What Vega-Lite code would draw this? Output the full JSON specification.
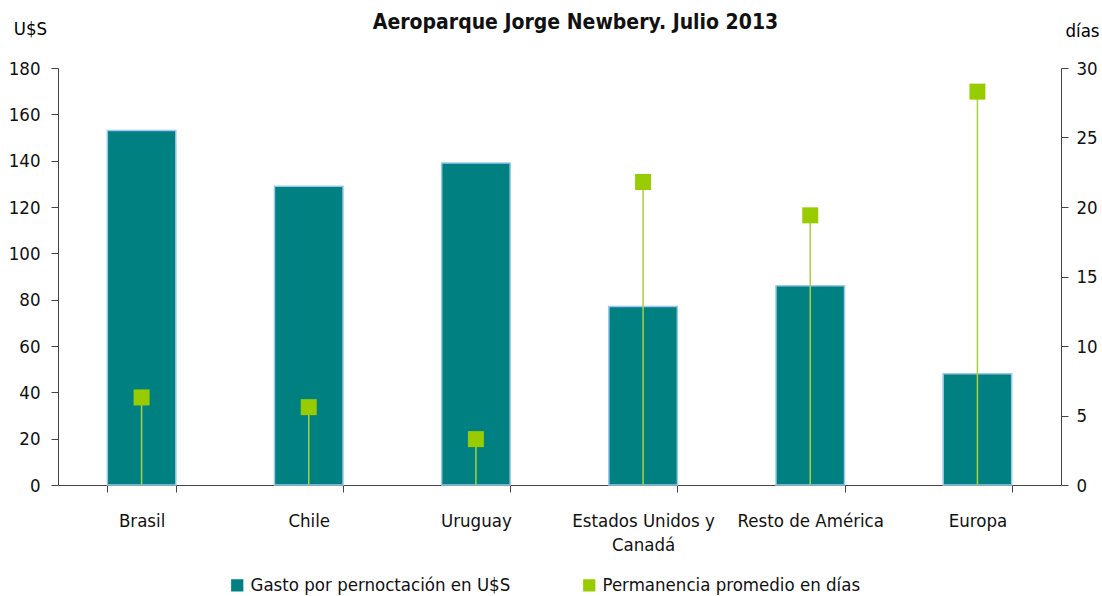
{
  "$schema": "https://vega.github.io/schema/vega-lite/v6.json",
  "width": 1003,
  "height": 417,
  "autosize": {"type": "none"},
  "padding": {"left": 58, "top": 68, "right": 41, "bottom": 111},
  "background": "white",
  "config": {
    "font": "DejaVu Sans Condensed, Liberation Sans, sans-serif",
    "view": {"stroke": null},
    "axis": {"labelFont": "DejaVu Sans Condensed, Liberation Sans, sans-serif", "titleFont": "DejaVu Sans Condensed, Liberation Sans, sans-serif", "labelColor": "#111", "domainColor": "#444", "tickColor": "#444", "grid": false}
  },
  "title": {
    "text": "Aeroparque Jorge Newbery. Julio 2013",
    "font": "DejaVu Sans Condensed, Liberation Sans, sans-serif",
    "fontSize": 21,
    "fontWeight": "bold",
    "color": "#111",
    "anchor": "middle",
    "dx": 16,
    "offset": -14
  },
  "data": {
    "values": [
      {"pais": "Brasil", "gasto": 153, "dias": 6.3},
      {"pais": "Chile", "gasto": 129, "dias": 5.6},
      {"pais": "Uruguay", "gasto": 139, "dias": 3.3},
      {"pais": "Estados Unidos y Canadá", "gasto": 77, "dias": 21.8},
      {"pais": "Resto de América", "gasto": 86, "dias": 19.4},
      {"pais": "Europa", "gasto": 48, "dias": 28.3}
    ]
  },
  "encoding": {
    "x": {
      "field": "pais",
      "type": "nominal",
      "sort": null,
      "scale": {"paddingInner": 0.59, "paddingOuter": 0.295},
      "axis": {
        "title": null,
        "labelAngle": 0,
        "labelFontSize": 18.5,
        "tickBand": "extent",
        "tickSize": 7,
        "labelPadding": 19,
        "labelBaseline": "top",
        "labelLineHeight": 24,
        "labelExpr": "datum.value == 'Estados Unidos y Canadá' ? ['Estados Unidos y', 'Canadá'] : datum.value"
      }
    }
  },
  "layer": [
    {
      "mark": {"type": "bar", "stroke": "#9cc8ec", "strokeWidth": 1.5},
      "encoding": {
        "y": {
          "field": "gasto",
          "type": "quantitative",
          "scale": {"domain": [0, 180]},
          "axis": {
            "orient": "left",
            "values": [0, 20, 40, 60, 80, 100, 120, 140, 160, 180],
            "labelFontSize": 18.5,
            "tickSize": 7,
            "labelPadding": 11,
            "title": "U$S",
            "titleFontSize": 18.5,
            "titleFontWeight": "normal",
            "titleAngle": 0,
            "titleX": -28,
            "titleY": -40,
            "titleAlign": "center",
            "titleBaseline": "middle"
          }
        },
        "color": {
          "datum": "Gasto por pernoctación en U$S",
          "type": "nominal",
          "scale": {
            "domain": ["Gasto por pernoctación en U$S", "Permanencia promedio en días"],
            "range": ["#008080", "#99cc00"]
          },
          "legend": {
            "title": null,
            "orient": "none",
            "direction": "horizontal",
            "legendX": 170,
            "legendY": 508,
            "symbolType": "square",
            "symbolSize": 150,
            "symbolStrokeWidth": 0,
            "labelFontSize": 18.5,
            "labelFont": "DejaVu Sans Condensed, Liberation Sans, sans-serif",
            "labelColor": "#111",
            "columnPadding": 69,
            "labelLimit": 400
          }
        }
      }
    },
    {
      "layer": [
        {
          "mark": {"type": "rule", "color": "#a8d040", "strokeWidth": 1.5},
          "encoding": {
            "y": {
              "field": "dias",
              "type": "quantitative",
              "scale": {"domain": [0, 30]},
              "axis": {
                "orient": "right",
                "values": [0, 5, 10, 15, 20, 25, 30],
                "labelFontSize": 18.5,
                "tickSize": 7,
                "labelPadding": 8,
                "title": "días",
                "titleFontSize": 18.5,
                "titleFontWeight": "normal",
                "titleAngle": 0,
                "titleX": 21,
                "titleY": -38,
                "titleAlign": "center",
                "titleBaseline": "middle"
              }
            },
            "y2": {"datum": 0}
          }
        },
        {
          "mark": {"type": "point", "shape": "square", "filled": true, "opacity": 1, "size": 256},
          "encoding": {
            "y": {"field": "dias", "type": "quantitative"},
            "color": {"datum": "Permanencia promedio en días", "type": "nominal"}
          }
        }
      ]
    }
  ],
  "resolve": {"scale": {"y": "independent"}}
}
